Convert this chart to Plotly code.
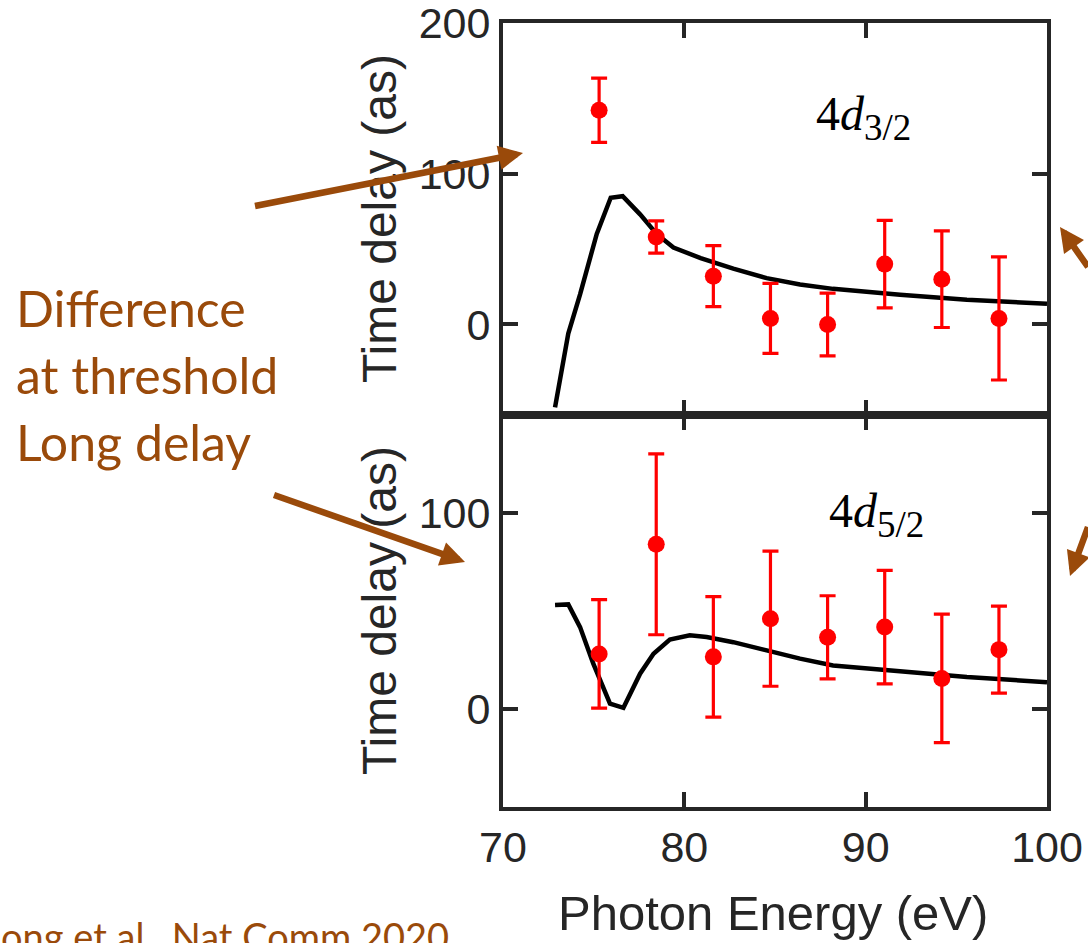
import plotly.graph_objects as go

# ---- data ----
energy_pts = [75.3, 78.45, 81.6, 84.75, 87.9, 91.05, 94.2, 97.35]

d32_delay = [142.0, 58.0, 32.0, 4.0, 0.0, 40.0, 30.0, 4.0]
d32_err = [21.3, 10.7, 20.2, 23.2, 20.8, 29.0, 32.0, 40.8]

d52_delay = [28.0, 84.0, 26.5, 46.0, 36.5, 41.7, 15.5, 30.2]
d52_err = [27.7, 46.2, 30.8, 34.5, 21.2, 29.0, 32.8, 22.2]

theory32_x = [72.87, 73.6, 74.25, 75.17, 75.94, 76.6, 77.56, 78.47, 79.4, 80.9,
              82.7, 84.54, 86.38, 88.2, 91.9, 95.58, 100.0]
theory32_y = [-55.0, -6.0, 20.0, 60.0, 84.0, 85.0, 73.0, 60.0, 51.0, 44.0,
              37.0, 30.7, 26.5, 23.6, 19.7, 16.4, 13.7]

theory52_x = [72.87, 73.6, 74.25, 74.98, 75.9, 76.64, 77.56, 78.3, 79.2, 80.3,
              81.23, 82.7, 84.54, 86.38, 88.2, 91.9, 95.58, 100.0]
theory52_y = [53.0, 53.3, 41.7, 23.0, 2.6, 0.5, 17.9, 28.1, 35.3, 37.5,
              36.6, 34.0, 29.8, 25.6, 22.1, 19.2, 16.2, 13.6]

x_ticks = [70, 80, 90, 100]
y_ticks_top = [0, 100, 200]
y_ticks_bottom = [0, 100]

# ---- styling ----
W, H = 1088, 943


def px(x):
    return x / W


def py(y):
    return 1 - y / H


AX = "#262626"
RED = "#ff0000"
BROWN = "#9a4a0a"
x0, x1 = px(503), px(1047)
top_dom = [py(415), py(22.7)]
bot_dom = [py(806.7), py(415)]

fig = go.Figure()

# bottom panel (4d5/2)
fig.add_trace(go.Scatter(x=theory52_x, y=theory52_y, mode="lines",
                         line=dict(color="black", width=4.5), xaxis="x", yaxis="y"))
fig.add_trace(go.Scatter(x=energy_pts, y=d52_delay, mode="markers",
                         marker=dict(color=RED, size=17),
                         error_y=dict(type="data", array=d52_err, visible=True,
                                      color=RED, thickness=3.2, width=8),
                         xaxis="x", yaxis="y"))
# top panel (4d3/2)
fig.add_trace(go.Scatter(x=theory32_x, y=theory32_y, mode="lines",
                         line=dict(color="black", width=4.5), xaxis="x2", yaxis="y2"))
fig.add_trace(go.Scatter(x=energy_pts, y=d32_delay, mode="markers",
                         marker=dict(color=RED, size=17),
                         error_y=dict(type="data", array=d32_err, visible=True,
                                      color=RED, thickness=3.2, width=8),
                         xaxis="x2", yaxis="y2"))

tickfont = dict(family="Liberation Sans, Arial, sans-serif", size=43, color=AX)
common_axis = dict(showline=True, linecolor=AX, linewidth=4, mirror="ticks",
                   ticks="inside", ticklen=15, tickwidth=4, tickcolor=AX,
                   showgrid=False, zeroline=False, tickfont=tickfont,
                   automargin=False, ticklabeloverflow="allow")

fig.update_layout(
    width=W, height=H,
    margin=dict(l=0, r=0, t=0, b=0, autoexpand=False),
    paper_bgcolor="white", plot_bgcolor="white",
    showlegend=False,
    xaxis=dict(domain=[x0, x1], range=[70, 100], tickvals=x_ticks, anchor="y",
               **common_axis),
    yaxis=dict(domain=bot_dom, range=[-50, 150], tickvals=y_ticks_bottom, anchor="x",
               **common_axis),
    xaxis2=dict(domain=[x0, x1], range=[70, 100], tickvals=x_ticks, anchor="y2",
                showticklabels=False, **common_axis),
    yaxis2=dict(domain=top_dom, range=[-60, 200], tickvals=y_ticks_top, anchor="x2",
                **common_axis),
)

title_font = dict(family="Liberation Sans, Arial, sans-serif", size=48, color=AX)
ann = []
# axis titles
ann.append(dict(text="Time delay (as)", xref="paper", yref="paper",
                x=px(379), y=py(219), textangle=-90, showarrow=False,
                font=title_font, xanchor="center", yanchor="middle"))
ann.append(dict(text="Time delay (as)", xref="paper", yref="paper",
                x=px(379), y=py(611), textangle=-90, showarrow=False,
                font=title_font, xanchor="center", yanchor="middle"))
ann.append(dict(text="Photon Energy (eV)", xref="paper", yref="paper",
                x=px(773), y=py(913), showarrow=False,
                font=dict(family="Liberation Sans, Arial, sans-serif", size=49, color=AX),
                xanchor="center", yanchor="middle"))
# panel labels
math_font = dict(family="Liberation Serif, DejaVu Serif, serif", size=48, color="black")
ann.append(dict(text="4<i>d</i><sub><span style='font-size:37px'>3/2</span></sub>",
                xref="x2", yref="y2", x=89.9, y=137,
                showarrow=False, font=math_font, xanchor="center", yanchor="middle"))
ann.append(dict(text="4<i>d</i><sub><span style='font-size:37px'>5/2</span></sub>",
                xref="x", yref="y", x=90.6, y=99,
                showarrow=False, font=math_font, xanchor="center", yanchor="middle"))
# brown notes
note_font = dict(family="Lato, Noto Sans, sans-serif", size=50, color=BROWN)
for txt, ymid in [("Difference", 308), ("at threshold", 375), ("Long delay", 442)]:
    ann.append(dict(text=txt, xref="paper", yref="paper", x=px(14), y=py(ymid),
                    showarrow=False, font=note_font, xanchor="left", yanchor="middle"))
ann.append(dict(text="ong et al., Nat Comm 2020", xref="paper", yref="paper",
                x=px(-1), y=py(961), showarrow=False,
                font=dict(family="Lato, Noto Sans, sans-serif", size=38, color=BROWN),
                xanchor="left", yanchor="bottom"))
# arrows (head position, tail position) in reference pixels
arrows = [((523, 153), (255, 206)),
          ((465, 562), (274, 495)),
          ((1060, 227), (1094, 267)),
          ((1070, 576), (1094, 527))]
for (hx, hy), (tx, ty) in arrows:
    ann.append(dict(text="", xref="paper", yref="paper", x=px(hx), y=py(hy),
                    ax=tx - hx, ay=ty - hy, showarrow=True, arrowhead=2, arrowsize=0.75,
                    arrowwidth=6.5, arrowcolor=BROWN, standoff=0, startstandoff=0,
                    font=dict(size=1), borderpad=0, borderwidth=0))
fig.update_layout(annotations=ann)

# remove the default page margin so the 1088x943 figure fills the window exactly
fig.write_html("out.html",
               config={"displayModeBar": False},
               post_script="document.body.style.margin='0';"
                           "document.body.style.overflow='hidden';")
